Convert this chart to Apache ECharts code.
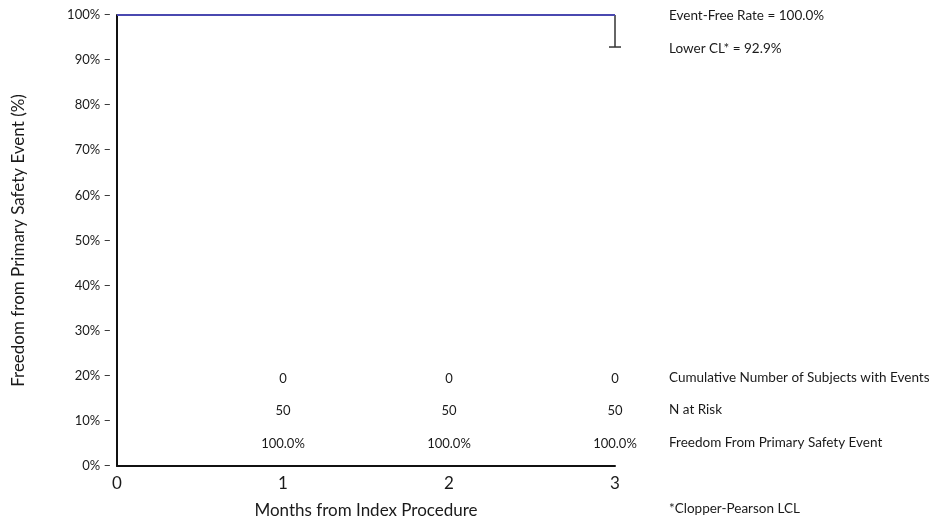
<!DOCTYPE html>
<html>
<head>
<meta charset="utf-8">
<script src="https://cdn.jsdelivr.net/npm/echarts@6/dist/echarts.min.js"></script>
<style>
  html, body { margin: 0; padding: 0; background: #fff; }
  #chart { width: 937px; height: 522px; }
</style>
</head>
<body>
<div id="chart"></div>
<script>
// KM curve (freedom from event, %)
const kmMonths = [0, 1, 2, 3];
const kmRate = [100, 100, 100, 100];
const lowerCL = 92.9;

// at-risk table under the curve
const tableMonths = [1, 2, 3];
const cumEvents = ['0', '0', '0'];
const nAtRisk = ['50', '50', '50'];
const freedomPct = ['100.0%', '100.0%', '100.0%'];
const rowNames = ['Cumulative Number of Subjects with Events', 'N at Risk', 'Freedom From Primary Safety Event'];
const rowY = [19.4, 12.3, 5.0]; // vertical placement of table rows in axis units

const font = 'Lato, "Open Sans", sans-serif';
const ink = '#1a1a1a';

const chart = echarts.init(document.getElementById('chart'));

function tableSeries(labels, y) {
  return {
    type: 'scatter',
    symbolSize: 0,
    silent: true,
    itemStyle: { opacity: 1 },
    data: tableMonths.map((m, i) => ({ value: [m, y], label: { formatter: labels[i] } })),
    label: { show: true, position: 'inside', color: ink, fontFamily: font, fontSize: 13 }
  };
}

const option = {
  animation: false,
  grid: { left: 117, right: 322, top: 15, bottom: 56, outerBoundsMode: 'none' },
  xAxis: {
    type: 'value', min: 0, max: 3, interval: 1,
    name: 'Months from Index Procedure', nameLocation: 'middle', nameGap: 36,
    nameTextStyle: { color: ink, fontFamily: font, fontSize: 17 },
    axisLine: { lineStyle: { color: '#111', width: 2 } },
    axisTick: { show: false },
    axisLabel: { color: ink, fontFamily: font, fontSize: 17, margin: 9 },
    splitLine: { show: false }
  },
  yAxis: {
    type: 'value', min: 0, max: 100, interval: 10,
    name: 'Freedom from Primary Safety Event (%)', nameLocation: 'middle', nameGap: 90,
    nameTextStyle: { color: ink, fontFamily: font, fontSize: 17 },
    axisLine: { show: true, lineStyle: { color: '#111', width: 2 } },
    axisTick: { show: false },
    axisLabel: { color: ink, fontFamily: font, fontSize: 13, margin: 6, formatter: '{value}% \u2013' },
    splitLine: { show: false }
  },
  series: [
    {
      type: 'line', step: 'end', symbol: 'none', z: 3,
      data: kmMonths.map((m, i) => [m, kmRate[i]]),
      lineStyle: { color: '#4a48b0', width: 2 }
    },
    {
      type: 'custom', silent: true,
      data: [[3, kmRate[3], lowerCL]],
      renderItem: function (params, api) {
        const top = api.coord([api.value(0), api.value(1)]);
        const bot = api.coord([api.value(0), api.value(2)]);
        const st = { stroke: '#333', lineWidth: 1.5 };
        return {
          type: 'group',
          children: [
            { type: 'line', shape: { x1: top[0], y1: top[1], x2: bot[0], y2: bot[1] }, style: st },
            { type: 'line', shape: { x1: bot[0] - 6, y1: bot[1], x2: bot[0] + 6, y2: bot[1] }, style: st }
          ]
        };
      }
    },
    tableSeries(cumEvents, rowY[0]),
    tableSeries(nAtRisk, rowY[1]),
    tableSeries(freedomPct, rowY[2])
  ],
  graphic: [
    { type: 'text', left: 669, top: 9, style: { text: 'Event-Free Rate = ' + kmRate[3].toFixed(1) + '%', fill: ink, font: '13.5px ' + font } },
    { type: 'text', left: 669, top: 42, style: { text: 'Lower CL* = ' + lowerCL.toFixed(1) + '%', fill: ink, font: '13.5px ' + font } },
    { type: 'text', left: 669, top: 371, style: { text: rowNames[0], fill: ink, font: '13.5px ' + font } },
    { type: 'text', left: 669, top: 403, style: { text: rowNames[1], fill: ink, font: '13.5px ' + font } },
    { type: 'text', left: 669, top: 436, style: { text: rowNames[2], fill: ink, font: '13.5px ' + font } },
    { type: 'text', left: 669, top: 502, style: { text: '*Clopper-Pearson LCL', fill: ink, font: '13.5px ' + font } }
  ]
};

chart.setOption(option);
</script>
</body>
</html>
